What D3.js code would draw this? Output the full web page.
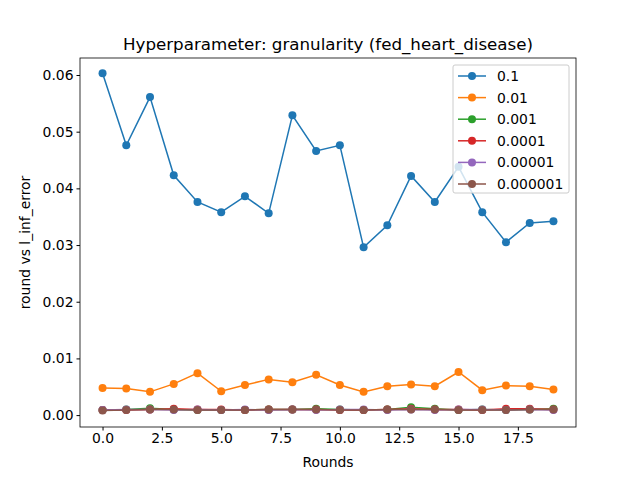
<!DOCTYPE html><html><head><script src="https://cdn.jsdelivr.net/npm/d3@7"></script>
<style>body{margin:0;background:#fff}text{font-family:"DejaVu Sans",sans-serif}</style></head><body><svg id="c" width="640" height="480"></svg>
<script>
const rounds=d3.range(20);
const seriesNames=["0.1","0.01","0.001","0.0001","0.00001","0.000001"];
const colors=["#1f77b4","#ff7f0e","#2ca02c","#d62728","#9467bd","#8c564b"];
const s01=[0.0603,0.0476,0.0561,0.0423,0.0376,0.0358,0.0386,0.0356,0.0529,0.0466,0.0476,0.0296,0.0335,0.0422,0.0376,0.0438,0.0358,0.0305,0.0339,0.0342];
const s001=[0.0048,0.0047,0.0041,0.0055,0.0074,0.0042,0.0053,0.0063,0.0058,0.0071,0.0053,0.0041,0.0051,0.0054,0.0051,0.0076,0.0044,0.0052,0.0051,0.0045];
const s0001=[0.0009,0.0010,0.0012,0.0010,0.0009,0.0009,0.0009,0.0010,0.0010,0.0011,0.0010,0.0009,0.0010,0.0014,0.0011,0.0009,0.0010,0.0009,0.0010,0.0011];
const s00001=[0.0009,0.0009,0.0010,0.0011,0.0010,0.0010,0.0009,0.0010,0.0010,0.0010,0.0009,0.0009,0.0010,0.0011,0.0010,0.0010,0.0009,0.0011,0.0011,0.0010];
const s000001=[0.0009,0.0010,0.0010,0.0009,0.0010,0.0009,0.0010,0.0009,0.0010,0.0009,0.0010,0.0010,0.0009,0.0010,0.0009,0.0010,0.0010,0.0009,0.0010,0.0009];
const s0000001=[0.0008,0.0009,0.0010,0.0010,0.0009,0.0009,0.0009,0.0010,0.0010,0.0010,0.0009,0.0009,0.0010,0.0010,0.0010,0.0009,0.0009,0.0009,0.0010,0.0010];
const data=[s01,s001,s0001,s00001,s000001,s0000001];
const xTicks=[0,2.5,5,7.5,10,12.5,15,17.5];
const yTicks=[0,0.01,0.02,0.03,0.04,0.05,0.06];
const L=80,R=576,T=58,B=427;
const svg=d3.select("#c");
const x=d3.scaleLinear().domain([-0.95,19.95]).range([L,R]);
const y=d3.scaleLinear().domain([-0.0021,0.0630]).range([B,T]);
svg.append("g").attr("transform",`translate(0,${B})`).call(d3.axisBottom(x).tickValues(xTicks).tickFormat(d3.format(".1f")).tickSizeOuter(0).tickSize(3.5)).call(g=>g.select(".domain").remove()).selectAll("text").attr("font-size",13.9).attr("fill","#000").attr("font-size","13.9px").style("font-size","13.9px").attr("font-family","DejaVu Sans");
svg.append("g").attr("transform",`translate(${L},0)`).call(d3.axisLeft(y).tickValues(yTicks).tickFormat(d3.format(".2f")).tickSizeOuter(0).tickSize(3.5)).call(g=>g.select(".domain").remove()).selectAll("text").attr("fill","#000").style("font-size","13.9px").attr("font-family","DejaVu Sans");
svg.append("rect").attr("x",L).attr("y",T).attr("width",R-L).attr("height",B-T).attr("fill","none").attr("stroke","#000").attr("stroke-width",0.8);
const line=d3.line().x((d,i)=>x(rounds[i])).y(d=>y(d));
data.forEach((s,k)=>{
 svg.append("path").attr("d",line(s)).attr("fill","none").attr("stroke",colors[k]).attr("stroke-width",1.5);
 svg.append("g").selectAll("circle").data(s).join("circle").attr("cx",(d,i)=>x(rounds[i])).attr("cy",d=>y(d)).attr("r",4).attr("fill",colors[k]);
});
svg.append("text").attr("x",(L+R)/2).attr("y",50).attr("text-anchor","middle").style("font-size","16.7px").text("Hyperparameter: granularity (fed_heart_disease)");
svg.append("text").attr("x",(L+R)/2).attr("y",467).attr("text-anchor","middle").style("font-size","13.9px").text("Rounds");
svg.append("text").attr("transform",`translate(30,${(T+B)/2}) rotate(-90)`).attr("text-anchor","middle").style("font-size","13.9px").text("round vs l_inf_error");
const lg=svg.append("g");
lg.append("rect").attr("x",453).attr("y",65).attr("width",116).attr("height",128).attr("rx",2).attr("fill","#fff").attr("fill-opacity",0.8).attr("stroke","#ccc");
seriesNames.forEach((n,k)=>{
 const yy=76+k*21.6;
 lg.append("line").attr("x1",458).attr("x2",486).attr("y1",yy).attr("y2",yy).attr("stroke",colors[k]).attr("stroke-width",1.5);
 lg.append("circle").attr("cx",472).attr("cy",yy).attr("r",4).attr("fill",colors[k]);
 lg.append("text").attr("x",497).attr("y",yy+5).style("font-size","13.9px").text(n);
});
</script></body></html>
